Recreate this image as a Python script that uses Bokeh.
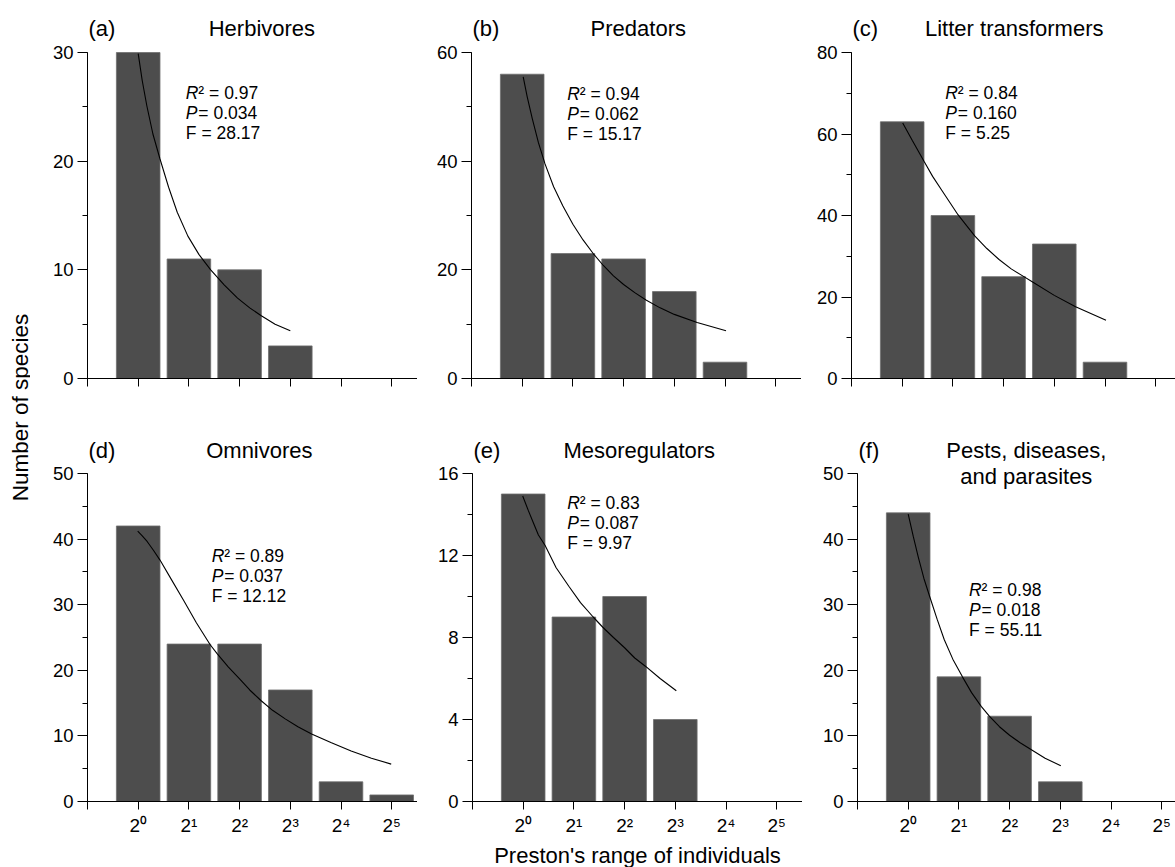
from bokeh.plotting import figure
from bokeh.layouts import row, column
from bokeh.models import Range1d, FixedTicker, SingleIntervalTicker, Label
from bokeh.embed import file_html
from bokeh.resources import INLINE

FONT = "Liberation Sans"
BAR_FILL = "#4d4d4d"
BAR_EDGE = "#6e6e6e"

# Preston octave classes (bin index -> 2^k individuals)
bins = [1, 2, 3, 4, 5, 6]
bin_labels = ["2\u2070", "2\u00b9", "2\u00b2", "2\u00b3", "2\u2074", "2\u2075"]

# Number of species per octave, one list per functional group
herbivores = [30, 11, 10, 3, 0, 0]
predators = [56, 23, 22, 16, 3, 0]
litter_transformers = [63, 40, 25, 33, 4, 0]
omnivores = [42, 24, 24, 17, 3, 1]
mesoregulators = [15, 9, 10, 4, 0, 0]
pests = [44, 19, 13, 3, 0, 0]

# Fitted curves, sampled along their length
herb_fit_x = [1.0, 1.08, 1.17, 1.29, 1.43, 1.6, 1.77, 1.98, 2.2, 2.43, 2.7, 2.96, 3.2, 3.42, 3.7, 4.0]
herb_fit_y = [29.9, 27.4, 25.1, 22.5, 20.2, 17.6, 15.3, 13.1, 11.4, 10.0, 8.6, 7.4, 6.5, 5.8, 5.0, 4.4]
pred_fit_x = [1.02, 1.1, 1.2, 1.32, 1.45, 1.62, 1.8, 2.0, 2.2, 2.4, 2.6, 2.8, 3.0, 3.22, 3.45, 3.72, 4.0, 4.45, 5.02]
pred_fit_y = [55.5, 51.8, 47.8, 43.4, 39.5, 35.3, 31.8, 28.4, 25.5, 23.0, 20.8, 18.9, 17.3, 15.8, 14.4, 13.0, 11.8, 10.3, 8.8]
litter_fit_x = [1.01, 1.2, 1.43, 1.6, 1.79, 1.95, 2.10, 2.27, 2.43, 2.67, 2.91, 3.15, 3.40, 3.58, 4.0, 4.42, 5.02]
litter_fit_y = [62.7, 58.4, 53.3, 49.6, 46.0, 43.0, 40.2, 37.5, 35.0, 31.9, 29.2, 26.9, 25.0, 23.6, 20.4, 17.6, 14.3]
omni_fit_x = [0.99, 1.08, 1.18, 1.3, 1.43, 1.65, 1.9, 2.15, 2.42, 2.56, 2.78, 3.0, 3.2, 3.42, 3.65, 3.9, 4.15, 4.42, 4.8, 5.2, 5.6, 5.99]
omni_fit_y = [41.2, 40.5, 39.6, 38.3, 36.8, 33.9, 30.6, 27.2, 23.9, 22.5, 20.5, 18.7, 17.0, 15.4, 13.9, 12.6, 11.4, 10.3, 9.0, 7.7, 6.6, 5.7]
meso_fit_x = [0.99, 1.1, 1.2, 1.3, 1.43, 1.65, 1.9, 2.13, 2.38, 2.57, 2.78, 3.0, 3.2, 3.41, 3.7, 4.02]
meso_fit_y = [14.9, 14.2, 13.6, 13.0, 12.5, 11.4, 10.5, 9.7, 9.0, 8.5, 8.0, 7.5, 7.0, 6.6, 6.0, 5.4]
pest_fit_x = [1.0, 1.1, 1.2, 1.31, 1.43, 1.57, 1.71, 1.88, 2.07, 2.25, 2.44, 2.6, 2.8, 3.0, 3.2, 3.43, 3.7, 4.01]
pest_fit_y = [43.8, 40.4, 37.2, 34.0, 31.1, 27.8, 24.7, 21.7, 19.0, 16.6, 14.5, 13.0, 11.4, 10.1, 9.0, 7.9, 6.6, 5.45]

# Regression statistics: R^2, P, F
r2_values = ["0.97", "0.94", "0.84", "0.89", "0.83", "0.98"]
p_values = ["0.034", "0.062", "0.160", "0.037", "0.087", "0.018"]
f_values = ["28.17", "15.17", "5.25", "12.12", "9.97", "55.11"]

panel_tags = ["(a)", "(b)", "(c)", "(d)", "(e)", "(f)"]
panel_titles = [["Herbivores"], ["Predators"], ["Litter transformers"],
                ["Omnivores"], ["Mesoregulators"], ["Pests, diseases,", "and parasites"]]
y_max = [30, 60, 80, 50, 16, 50]
y_step = [10, 20, 20, 10, 4, 10]

counts = [herbivores, predators, litter_transformers, omnivores, mesoregulators, pests]
fits = [(herb_fit_x, herb_fit_y), (pred_fit_x, pred_fit_y), (litter_fit_x, litter_fit_y),
        (omni_fit_x, omni_fit_y), (meso_fit_x, meso_fit_y), (pest_fit_x, pest_fit_y)]

# text anchors (data coordinates) for the statistics block and the centred title
stat_pos = [(1.94, 26.3), (1.89, 52.4), (1.85, 70.0), (2.45, 37.5), (1.87, 14.55), (2.20, 32.2)]
title_x = [3.44, 3.29, 3.21, 3.39, 3.29, 3.33]

BIN_PX = 50.7
# per panel: frame width, left border
geom = [(330, 57), (330, 54), (324, 50), (330, 57), (330, 55), (318, 55)]


def make_panel(i, top_row):
    frame_w, left = geom[i]
    # axis height in pixels; the frame continues above it to hold the titles
    axis_h = 326 if top_row else 328
    head = 52 if top_row else 73
    frame_h = axis_h + head
    bottom = 22 if top_row else 66
    x_end = frame_w / BIN_PX
    ymax = y_max[i]
    px_to_y = ymax / axis_h
    p = figure(frame_width=frame_w, frame_height=frame_h,
               min_border_left=left, min_border_right=0,
               min_border_top=0, min_border_bottom=bottom,
               x_range=Range1d(0, x_end), y_range=Range1d(0, ymax + head * px_to_y),
               output_backend="svg", toolbar_location=None, tools="")
    p.outline_line_color = None
    p.grid.visible = False
    p.background_fill_color = "white"
    p.border_fill_color = "white"

    xs = [b for b, c in zip(bins, counts[i]) if c > 0]
    tops = [c for c in counts[i] if c > 0]
    p.vbar(x=xs, top=tops, width=0.86, bottom=0,
           fill_color=BAR_FILL, line_color=BAR_EDGE, line_width=0.8)
    fx, fy = fits[i]
    p.line(fx, fy, line_color="black", line_width=1.1)

    xa = p.xaxis[0]
    xa.ticker = FixedTicker(ticks=[0] + bins, minor_ticks=[])
    overrides = {0: ""}
    for b, lab in zip(bins, bin_labels):
        overrides[b] = "" if top_row else lab
    xa.major_label_overrides = overrides
    xa.major_tick_out = 8
    xa.major_tick_in = 0
    xa.minor_tick_out = 0
    xa.axis_line_color = "black"
    xa.major_tick_line_color = "black"
    xa.major_label_text_font = FONT
    xa.major_label_text_color = "black"
    xa.major_label_text_font_size = "19px"
    xa.major_label_standoff = 0 if top_row else 5

    ya = p.yaxis[0]
    ya.bounds = (0, ymax)
    ya.ticker = SingleIntervalTicker(interval=y_step[i], num_minor_ticks=2)
    ya.major_tick_out = 10
    ya.major_tick_in = 0
    ya.minor_tick_out = 5
    ya.minor_tick_in = 0
    ya.axis_line_color = "black"
    ya.major_tick_line_color = "black"
    ya.minor_tick_line_color = "black"
    ya.major_label_text_font = FONT
    ya.major_label_text_font_size = "18.5px"
    ya.major_label_text_color = "black"
    ya.major_label_standoff = 4

    # panel tag and title above the axes
    base = 24 if top_row else 23
    p.add_layout(Label(x=0, y=ymax + base * px_to_y,
                       x_offset=1, text=panel_tags[i], text_font=FONT,
                       text_font_size="22px", text_color="black",
                       text_align="left", text_baseline="alphabetic"))
    for k, t in enumerate(panel_titles[i]):
        p.add_layout(Label(x=title_x[i], y=ymax + (base - 26 * k) * px_to_y,
                           text=t, text_font=FONT, text_font_size="22px",
                           text_color="black", text_align="center",
                           text_baseline="alphabetic"))

    # statistics block
    sx, sy = stat_pos[i]
    common = dict(text_font=FONT, text_font_size="17.5px", text_color="black",
                  text_align="left", text_baseline="alphabetic")
    p.add_layout(Label(x=sx, y=sy, text="R", text_font_style="italic", **common))
    p.add_layout(Label(x=sx, y=sy, x_offset=12.5, text="\u00b2 = " + r2_values[i], **common))
    y2 = sy - 20 * px_to_y
    p.add_layout(Label(x=sx, y=y2, text="P", text_font_style="italic", **common))
    p.add_layout(Label(x=sx, y=y2, x_offset=12.5, text="= " + p_values[i], **common))
    y3 = sy - 40 * px_to_y
    p.add_layout(Label(x=sx, y=y3, text="F = " + f_values[i], **common))
    return p


panels = [make_panel(i, i < 3) for i in range(6)]

e = panels[4]
e.xaxis[0].axis_label = "Preston's range of individuals"
e.xaxis[0].axis_label_text_font = FONT
e.xaxis[0].axis_label_text_font_size = "22px"
e.xaxis[0].axis_label_text_font_style = "normal"
e.xaxis[0].axis_label_text_color = "black"
e.xaxis[0].axis_label_standoff = 4

# shared y-axis title spanning both rows
strip = figure(width=30, height=867, x_range=Range1d(0, 30), y_range=Range1d(0, 867),
               x_axis_type=None, y_axis_type=None, min_border=0,
               output_backend="svg", toolbar_location=None, tools="")
strip.outline_line_color = None
strip.grid.visible = False
strip.add_layout(Label(x=20, y=867 - 407, text="Number of species", angle=90,
                       angle_units="deg", text_font=FONT, text_font_size="22.5px",
                       text_color="black", text_align="center", text_baseline="middle"))

layout = row(strip, column(row(*panels[:3]), row(*panels[3:])))

open("out.html", "w").write(file_html(layout, INLINE))
